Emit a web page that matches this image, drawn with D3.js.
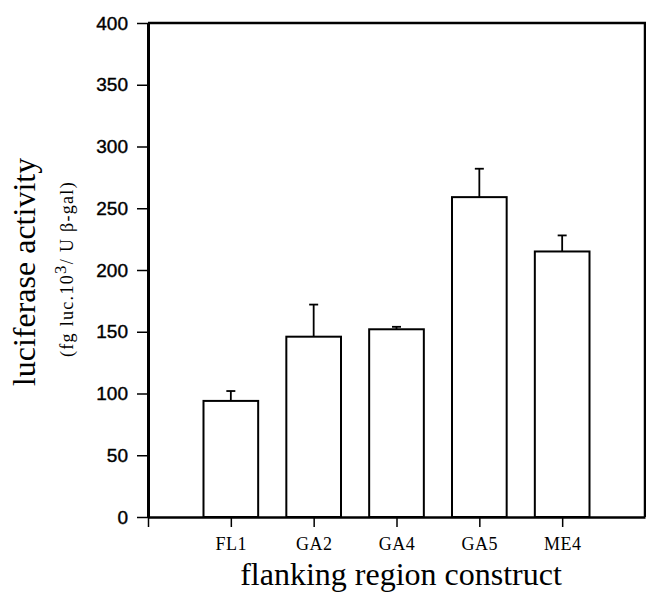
<!DOCTYPE html>
<html>
<head>
<meta charset="utf-8">
<script src="https://cdn.jsdelivr.net/npm/d3@7"></script>
<style>
  body { margin: 0; background: #fff; }
  .axis text { font-family: "Liberation Sans", Arial, sans-serif; fill: #000; }
  .x.axis text { font-family: "Liberation Serif", "Times New Roman", serif; }
</style>
</head>
<body>
<svg id="chart" width="646" height="594"></svg>
<script>
// luciferase activity per construct
const categories = ["FL1", "GA2", "GA4", "GA5", "ME4"];
const means = [94, 146, 152, 259, 215];
const errors = [8, 26, 2, 23, 13];
const yTicks = [0, 50, 100, 150, 200, 250, 300, 350, 400];

const svg = d3.select("svg#chart");
const margin = { top: 23, right: 1, bottom: 77, left: 148 };
const width = +svg.attr("width");
const height = +svg.attr("height");

const yScale = d3.scaleLinear().domain([0, 400]).range([height - margin.bottom, margin.top]);
const xScale = d3.scaleLinear().domain([0, 6]).range([margin.left, width - margin.right]);
const unit = xScale(1) - xScale(0);
const barWidth = unit * 0.66;

// frame (top and right)
svg.append("path")
    .attr("d", `M${xScale(0)},${yScale(400)}H${xScale(6)}V${yScale(0)}`)
    .attr("fill", "none")
    .attr("stroke", "#000")
    .attr("stroke-width", 2.5);

// bars
const bars = svg.append("g").attr("id", "bars");
bars.selectAll("rect")
    .data(means)
    .join("rect")
    .attr("x", (d, i) => xScale(i + 1) - barWidth / 2)
    .attr("y", d => yScale(d))
    .attr("width", barWidth)
    .attr("height", d => yScale(0) - yScale(d))
    .attr("fill", "#fff")
    .attr("stroke", "#000")
    .attr("stroke-width", 2);

// error bars, upward only
const errG = svg.append("g").attr("id", "errors");
errG.selectAll("line.stem")
    .data(means)
    .join("line")
    .attr("class", "stem")
    .attr("x1", (d, i) => xScale(i + 1))
    .attr("x2", (d, i) => xScale(i + 1))
    .attr("y1", d => yScale(d))
    .attr("y2", (d, i) => yScale(d + errors[i]))
    .attr("stroke", "#000")
    .attr("stroke-width", 1.8);
errG.selectAll("line.cap")
    .data(means)
    .join("line")
    .attr("class", "cap")
    .attr("x1", (d, i) => xScale(i + 1) - 4.5)
    .attr("x2", (d, i) => xScale(i + 1) + 4.5)
    .attr("y1", (d, i) => yScale(d + errors[i]))
    .attr("y2", (d, i) => yScale(d + errors[i]))
    .attr("stroke", "#000")
    .attr("stroke-width", 1.8);

// y axis
const leftAxis = d3.axisLeft(yScale)
    .tickValues(yTicks)
    .tickSize(11)
    .tickSizeOuter(0)
    .tickPadding(9);
const yAxisG = svg.append("g")
    .attr("class", "y axis")
    .attr("transform", `translate(${margin.left},0)`)
    .call(leftAxis);
yAxisG.select(".domain").attr("stroke-width", 3);
yAxisG.selectAll(".tick line").attr("stroke-width", 1.5);
yAxisG.selectAll("text")
    .attr("font-size", 19)
    .attr("stroke", "#000")
    .attr("stroke-width", 0.4);

// x axis
const bottomAxis = d3.axisBottom(xScale)
    .tickValues([0, 1, 2, 3, 4, 5])
    .tickFormat(i => i === 0 ? "" : categories[i - 1])
    .tickSize(10)
    .tickSizeOuter(0)
    .tickPadding(10);
const xAxisG = svg.append("g")
    .attr("class", "x axis")
    .attr("transform", `translate(0,${yScale(0)})`)
    .call(bottomAxis);
xAxisG.select(".domain").attr("stroke-width", 2.5);
xAxisG.selectAll(".tick line").attr("stroke-width", 1.5);
xAxisG.selectAll("text")
    .attr("font-size", 18)
    .attr("letter-spacing", 0.5);

// axis titles
svg.append("text")
    .attr("x", 401)
    .attr("y", 585)
    .attr("text-anchor", "middle")
    .attr("font-family", "Liberation Serif, Times New Roman, serif")
    .attr("font-size", 32)
    .text("flanking region construct");

svg.append("text")
    .attr("transform", "translate(35,272) rotate(-90)")
    .attr("text-anchor", "middle")
    .attr("font-family", "Liberation Serif, Times New Roman, serif")
    .attr("font-size", 32)
    .text("luciferase activity");

const sub = svg.append("text")
    .attr("transform", "translate(73,269) rotate(-90)")
    .attr("text-anchor", "middle")
    .attr("font-family", "Liberation Serif, Times New Roman, serif")
    .attr("font-size", 18)
    .attr("letter-spacing", 1.3);
sub.append("tspan").text("(fg luc.10");
sub.append("tspan").attr("dy", -7).attr("font-size", 17).text("3");
sub.append("tspan").attr("dy", 7).text("/ U \u03b2-gal)");
</script>
</body>
</html>
